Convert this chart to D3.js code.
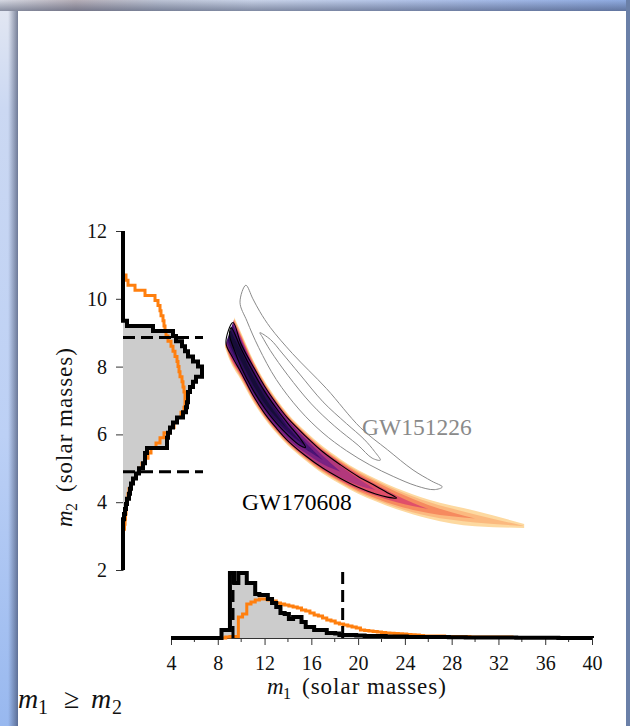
<!DOCTYPE html>
<html>
<head>
<meta charset="utf-8">
<script src="https://cdn.jsdelivr.net/npm/d3@7"></script>
<style>
  body { margin: 0; overflow: hidden; background: #fff; }
  svg { display: block; }
</style>
</head>
<body>
<script>
// ---- data ----
const m1Ticks = [4, 8, 12, 16, 20, 24, 28, 32, 36, 40];
const m1Minor = [6, 10, 14, 18, 22, 26, 30, 34, 38];
const m2Ticks = [2, 4, 6, 8, 10, 12];

// marginal histogram of m1 (bins of 0.36 starting at 4)
const m1BinStart = 4, m1BinWidth = 0.36;
const m1Black = [0,0,0,0,0,0,0,0,0,0,0,0,
  8,8,65,55,65,65,55,55,44,43,
  43,39,35,31,25,24,19,21,21,16,
  11,11,8,8,8,5,5,4.5,3,3,
  3,3,2.5,2.5,2,2,2,2,2,1.5,
  1.5,1.5,1.5,1.5,1,1,1,1,1,1,
  1,1,1,1,0.8,0.8,0.8,0.8,0.6,0.6,
  0.6,0.6,0.5,0.5,0.5,0.5,0.4,0.4,0.4,0.4,
  0.3,0.3,0.3,0.3,0.3,0.2,0.2,0.2,0.2,0.2,
  0.1,0.1,0.1,0.1,0.1,0.1,0.1,0.1];
const m1Orange = [0,0,0,0,0,0,0,0,0,0,0,0,
  0,1,1.5,1.5,21,24,34,36,38,39,
  39,38,37,35,34,33,32,31,30,28,
  27,25,23,22,20,18,17,15,14,13,
  12,11,10,8,7.5,7,6.5,6,5.5,5,
  4.7,4.5,4.2,4,3.5,3.2,3,2.5,2,2,
  2,2,2,1.5,1.5,1.5,1.5,1.5,1.5,1,
  1,1,1,1,1,1,1,1,1,0.5,
  0.5,0.5,0.5,0.5,0.5,0.5,0.5,0.5,0.5,0.5,
  0.3,0.3,0.3,0.3,0.3,0.3,0.3,0.3];

// marginal histogram of m2 (bins of 0.15 starting at 3.2)
const m2BinStart = 3.2, m2BinWidth = 0.15;
const m2Black = [0,0,1,2,3,4,6,7,8,10,13,16,20,22,22,24,44,44,45,47,50,54,60,63,64,65,65,67,70,73,79,79,75,70,65,62,59,53,50,30,4,0];
const m2Orange = [1.5,2,2.5,3,3,4,5,6,8,10,13,16,19,22,25,28,33,37,41,47,51,54,58,61,62,62,62,61,60,59,57,56,55,54,52,50,48,45,43,42,41,40,38,37,35,32,22,12,5,3];

// 90% credible bounds
const m1Interval = [9.3, 18.68];
const m2Interval = [4.9, 8.86];

// GW170608 posterior density: ridge line and half widths (in m2) per level
const bandM1 = [8.4, 9.0, 10, 11, 12, 13, 14, 15.5, 17, 18.5, 20, 21.5, 23.3, 26, 30, 34.2];
const bandM2 = [9.6, 9.0, 8.3, 7.6, 7.02, 6.55, 6.14, 5.66, 5.24, 4.9, 4.6, 4.36, 4.1, 3.8, 3.52, 3.3];
const bandHalfWidths = [
  [0.8,0.8,0.7,0.62,0.56,0.51,0.47,0.43,0.4,0.37,0.35,0.33,0.31,0.28,0.23,0.06],
  [0.74,0.74,0.65,0.58,0.52,0.47,0.43,0.39,0.36,0.33,0.31,0.29,0.26,0.21,0.12,0],
  [0.7,0.7,0.61,0.54,0.49,0.44,0.4,0.36,0.33,0.3,0.27,0.24,0.2,0.12,0],
  [0.65,0.65,0.57,0.5,0.45,0.41,0.37,0.33,0.29,0.26,0.22,0.17,0.1,0],
  [0.6,0.6,0.52,0.46,0.41,0.37,0.33,0.28,0.23,0.17,0.1,0],
  [0.55,0.55,0.48,0.42,0.37,0.33,0.28,0.21,0.12,0],
  [0.48,0.48,0.42,0.36,0.31,0.26,0.2,0.1,0],
  [0.34,0.34,0.3,0.26,0.22,0.16,0.08,0],
  [0.16,0.16,0.15,0.13,0.1,0.05,0]
];
const bandColors = ["#fdd9a0", "#fbb97f", "#f68a5f", "#e0506a", "#b3377b", "#7a2282", "#4a1273", "#2a0f55", "#180c38"];

// credible contours as closed outlines [m1, m2]
const c90_170608 = [[9.3,9.3],[10,8.66],[11,8.02],[12,7.42],[13,6.91],[14,6.47],[15.5,5.95],[17,5.48],[18.5,5.1],[20,4.76],[21.5,4.48],[22.5,4.28],[23.3,4.12],
  [22.5,4.15],[21.5,4.24],[20,4.44],[18.5,4.7],[17,5.0],[15.5,5.37],[14,5.81],[13,6.19],[12,6.62],[11,7.16],[10,7.82],[9.3,8.25],[8.7,8.7]];
const c50_170608 = [[9.15,9.15],[10,8.52],[11,7.86],[12,7.27],[13,6.77],[14,6.32],[15,5.9],[15.5,5.62],
  [15,5.68],[14,5.98],[13,6.34],[12,6.78],[11,7.32],[10,7.98],[9.4,8.5],[9.0,8.95]];
const c90_151226 = [[10.4,10.4],[11,10.0],[11.6,9.62],[12.5,9.15],[14.4,8.38],[17.3,7.35],[20.2,6.2],[22.5,5.55],[24.7,4.95],[26.3,4.62],[27.2,4.45],
  [26.5,4.37],[25,4.48],[23,4.76],[21,5.1],[19,5.52],[17,6.04],[15,6.72],[13,7.62],[11.5,8.56],[10.5,9.34],[9.9,9.9]];
const c50_151226 = [[11.6,9.0],[12.5,8.8],[13.5,8.4],[15,7.78],[17,6.96],[19,6.32],[20.5,5.86],[21.4,5.5],[21.9,5.24],
  [21.2,5.3],[20,5.68],[18,6.24],[16,6.9],[14,7.74],[12.5,8.47],[11.8,8.88]];

const SERIF = '"Liberation Serif", "Times New Roman", serif';
const W = 630, H = 726;
const svg = d3.select("body").append("svg").attr("width", W).attr("height", H);
const defs = svg.append("defs");

// ---- window frame around the figure ----
function grad(id, x1, y1, x2, y2, stops) {
  const g = defs.append("linearGradient").attr("id", id)
    .attr("x1", x1).attr("y1", y1).attr("x2", x2).attr("y2", y2);
  stops.forEach(s => g.append("stop").attr("offset", s[0]).attr("stop-color", s[1]).attr("stop-opacity", s[2] == null ? 1 : s[2]));
}
grad("leftBase", 0, 0, 0, 1, [[0, "#e4e8f2"], [0.15, "#cbd8f2"], [0.6, "#bcd0f5"], [1, "#98b8ef"]]);
grad("leftShade", 0, 0, 1, 0, [[0, "#323c5a", 0], [0.45, "#323c5a", 0], [1, "#323c5a", 0.6]]);
grad("topBase", 0, 0, 1, 0, [[0, "#d5d8e2"], [0.12, "#b6afb8"], [0.25, "#bcc3d4"], [0.4, "#c9d3e8"], [0.6, "#b6c6e8"], [0.8, "#a2b8e6"], [1, "#8eaae0"]]);
grad("topShade", 0, 0, 0, 1, [[0, "#28324f", 0], [1, "#28324f", 0.45]]);

svg.append("rect").attr("width", W).attr("height", H).attr("fill", "url(#leftBase)");
svg.append("rect").attr("width", W).attr("height", 11).attr("fill", "url(#topBase)");
svg.append("rect").attr("width", W).attr("height", 11).attr("fill", "url(#topShade)");
svg.append("rect").attr("y", 11).attr("width", 18).attr("height", H - 11).attr("fill", "url(#leftShade)");
svg.append("rect").attr("x", 626).attr("y", 0).attr("width", 4).attr("height", H).attr("fill", "#6b80a8");
svg.append("rect").attr("x", 18).attr("y", 11).attr("width", 608).attr("height", H - 11).attr("fill", "#fff");

// ---- scales ----
const x = d3.scaleLinear().domain([4, 40]).range([171, 592]);
const y = d3.scaleLinear().domain([2, 12]).range([570, 231]);
const hx = d3.scaleLinear().domain([0, 80]).range([123, 203]);   // m2 marginal density
const hy = d3.scaleLinear().domain([0, 68]).range([638, 570]);   // m1 marginal density

// ---- joint posterior ----
const diagRegion = [[2, 2], [12.5, 12.5], [41, 12.5], [41, 2]];
defs.append("clipPath").attr("id", "m1gem2").append("path")
  .attr("d", d3.line().x(d => x(d[0])).y(d => y(d[1]))(diagRegion) + "Z");
defs.append("filter").attr("id", "soft").attr("x", "-5%").attr("y", "-5%").attr("width", "110%").attr("height", "110%")
  .append("feGaussianBlur").attr("stdDeviation", 0.6);

const area = d3.area().x(d => x(d.m1)).y0(d => y(d.lo)).y1(d => y(d.hi)).curve(d3.curveMonotoneX);
const gBand = svg.append("g").attr("clip-path", "url(#m1gem2)").append("g").attr("filter", "url(#soft)");
bandHalfWidths.forEach((hw, li) => {
  const pts = hw.map((h, i) => ({ m1: bandM1[i], lo: bandM2[i] - h, hi: bandM2[i] + h }));
  gBand.append("path").attr("d", area(pts)).attr("fill", bandColors[li]);
});

const ring = d3.line().x(d => x(d[0])).y(d => y(d[1])).curve(d3.curveCatmullRomClosed.alpha(0.5));
[c90_151226, c50_151226].forEach(c => {
  svg.append("path").attr("d", ring(c)).attr("fill", "none").attr("stroke", "#8a8a8a").attr("stroke-width", 1);
});
[c90_170608, c50_170608].forEach(c => {
  svg.append("path").attr("d", ring(c)).attr("fill", "none").attr("stroke", "#000").attr("stroke-width", 1.1);
});

svg.append("text").attr("x", 362).attr("y", 435).attr("fill", "#8a8a8a")
  .style("font-family", SERIF).style("font-size", "23.5px").text("GW151226");
svg.append("text").attr("x", 242).attr("y", 510).attr("fill", "#000")
  .style("font-family", SERIF).style("font-size", "23.5px").text("GW170608");

// ---- marginal histograms ----
function steps(start, width, vals, lo, hi) {
  const pts = [[lo, 0], [start, 0]];
  vals.forEach((v, i) => { pts.push([start + i * width, v], [start + (i + 1) * width, v]); });
  pts.push([start + vals.length * width, 0], [hi, 0]);
  return pts;
}

// left: m2
const leftAxis = svg.append("g").attr("transform", `translate(${hx(0)},0)`)
  .call(d3.axisLeft(y).tickValues(m2Ticks).tickSize(7).tickSizeOuter(0).tickPadding(9).tickFormat(d3.format("d")));
leftAxis.attr("font-family", null);
leftAxis.select(".domain").attr("stroke", "#333").attr("stroke-width", 1);
leftAxis.selectAll(".tick line").attr("stroke", "#333");
leftAxis.selectAll("text").style("font-family", SERIF).style("font-size", "20px").attr("fill", "#111");

const lineL = d3.line().x(d => hx(d[1])).y(d => y(d[0]));
svg.append("path").attr("d", lineL(steps(m2BinStart, m2BinWidth, m2Black, 2, 12)) + "Z").attr("fill", "#cccccc");
svg.append("path").attr("d", lineL(steps(m2BinStart, m2BinWidth, m2Orange, 2, 12)))
  .attr("fill", "none").attr("stroke", "#ff7f0e").attr("stroke-width", 3);
svg.append("path").attr("d", lineL(steps(m2BinStart, m2BinWidth, m2Black, 2, 12)))
  .attr("fill", "none").attr("stroke", "#000").attr("stroke-width", 4);
m2Interval.forEach(v => {
  svg.append("line").attr("x1", hx(0)).attr("x2", hx(80)).attr("y1", y(v)).attr("y2", y(v))
    .attr("stroke", "#000").attr("stroke-width", 3).attr("stroke-dasharray", "12,6");
});

// bottom: m1
const botAxis = svg.append("g").attr("transform", `translate(0,${hy(0)})`)
  .call(d3.axisBottom(x).tickValues(m1Ticks).tickSize(7).tickSizeOuter(0).tickPadding(11).tickFormat(d3.format("d")));
botAxis.attr("font-family", null);
botAxis.select(".domain").attr("stroke", "#333");
botAxis.selectAll(".tick line").attr("stroke", "#333");
botAxis.selectAll("text").style("font-family", SERIF).style("font-size", "20px").attr("fill", "#111");
svg.append("g").attr("transform", `translate(0,${hy(0)})`)
  .selectAll("line").data(m1Minor).join("line")
  .attr("x1", d => x(d)).attr("x2", d => x(d)).attr("y1", 0).attr("y2", 4).attr("stroke", "#333");

const lineB = d3.line().x(d => x(d[0])).y(d => hy(d[1]));
svg.append("path").attr("d", lineB(steps(m1BinStart, m1BinWidth, m1Black, 4, 40)) + "Z").attr("fill", "#cccccc");
svg.append("path").attr("d", lineB(steps(m1BinStart, m1BinWidth, m1Orange, 4, 40)))
  .attr("fill", "none").attr("stroke", "#ff7f0e").attr("stroke-width", 3);
svg.append("path").attr("d", lineB(steps(m1BinStart, m1BinWidth, m1Black, 4, 40)))
  .attr("fill", "none").attr("stroke", "#000").attr("stroke-width", 4);
m1Interval.forEach(v => {
  svg.append("line").attr("x1", x(v)).attr("x2", x(v)).attr("y1", hy(0)).attr("y2", hy(68))
    .attr("stroke", "#000").attr("stroke-width", 3).attr("stroke-dasharray", "12,6");
});

// ---- axis labels ----
function massLabel(g, sub) {
  const t = g.append("text").style("font-family", SERIF).style("font-size", "23px").attr("fill", "#111");
  t.append("tspan").attr("x", -90).attr("y", 0).style("font-style", "italic").text("m");
  t.append("tspan").attr("x", -74).attr("y", 5).style("font-size", "16px").text(sub);
  t.append("tspan").attr("x", -55).attr("y", 0).style("letter-spacing", "1px").text("(solar masses)");
}
massLabel(svg.append("g").attr("transform", "translate(357,694)"), "1");
massLabel(svg.append("g").attr("transform", "translate(72,437) rotate(-90)"), "2");

const cond = svg.append("text").style("font-family", SERIF).style("font-size", "28px").attr("fill", "#111");
cond.append("tspan").attr("x", 18).attr("y", 708).style("font-style", "italic").text("m");
cond.append("tspan").attr("x", 38).attr("y", 714).style("font-size", "20px").text("1");
cond.append("tspan").attr("x", 64).attr("y", 708).text("\u2265");
cond.append("tspan").attr("x", 91).attr("y", 708).style("font-style", "italic").text("m");
cond.append("tspan").attr("x", 112).attr("y", 714).style("font-size", "20px").text("2");
</script>
</body>
</html>
